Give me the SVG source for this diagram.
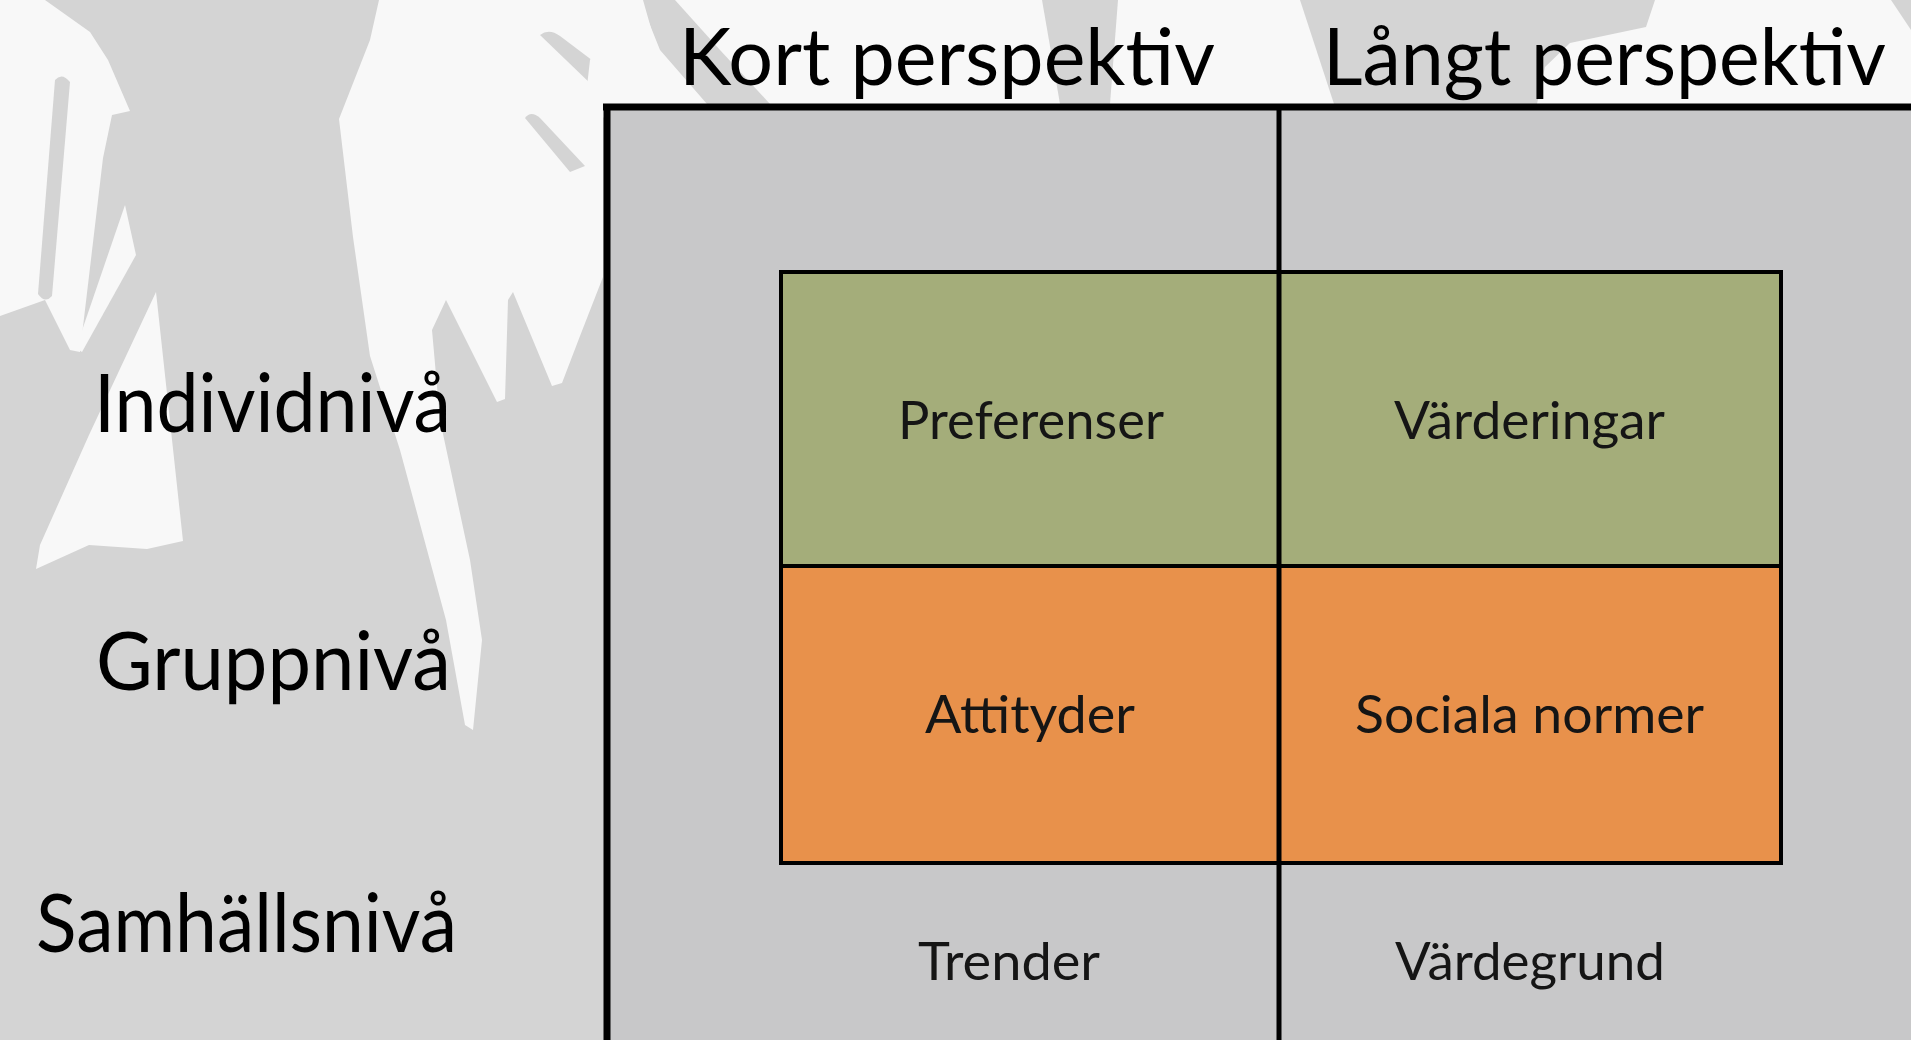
<svg xmlns="http://www.w3.org/2000/svg" width="1911" height="1040" viewBox="0 0 1911 1040">
<style>
.hand{fill:#f8f8f8;stroke:none}
.gband{fill:#d4d4d4;stroke:none}
.hdr{font-family:"Lato","Liberation Sans",sans-serif;font-size:80px;fill:#000}
.row{font-family:"Lato","Liberation Sans",sans-serif;font-size:82px;fill:#000}
.cell{font-family:"Lato","Liberation Sans",sans-serif;font-size:52px;fill:#151515;text-anchor:start}
.ln{stroke:#000;fill:none}
</style>
<rect id="background" x="0" y="0" width="1911" height="1040" fill="#d4d4d4"/>
<g id="hands">
<path class="hand" d="M0,0 L45,0 L90,32 L108,60 L130,111 L112,115 L103,158 L80,352 L70,350 L45,300 L0,316 Z"/>
<path class="gband" d="M55,80 Q62,72 70,82 L52,296 Q45,304 38,294 Z"/>
<path class="hand" d="M125,205 L136,255 L82,352 L76,348 Z"/>
<path class="hand" d="M36,569 L40,545 L89,435 L156,292 L183,541 L147,549 L89,545 Z"/>
<path class="hand" d="M379,0 L643,0 L660,60 L603,118 L603,277 L580,336 L562,383 L552,386 L513,292 L508,300 L505,399 L497,402 L446,300 L432,330 L440,420 L470,560 L482,640 L473,730 L465,725 L446,620 L400,450 L370,356 L353,237 L339,119 L370,40 Z"/>
<path class="gband" d="M540,35 Q549,28 560,36 L650,104 L620,112 Z"/>
<path class="gband" d="M525,118 Q531,110 540,118 L585,166 L570,172 Z"/>
<path class="hand" d="M622,0 L640,0 L660,50 L707,104 L585,104 L590,60 Z"/>
<path class="hand" d="M675,0 L1042,0 L1060,104 L770,104 L720,50 Z"/>
<path class="hand" d="M1118,0 L1300,0 L1334,104 L1110,104 Z"/>
<path class="hand" d="M1655,0 L1891,0 L1911,30 L1911,104 L1537,104 L1545,67 L1570,43 L1646,27 Z"/>
</g>
<rect id="table-bg" x="607" y="107" width="1304" height="933" fill="#c8c8c9"/>
<g id="cell-preferenser">
<rect x="781" y="272" width="498" height="294" fill="#a4ad7a"/>
<text class="cell" x="898" y="439" textLength="266" lengthAdjust="spacingAndGlyphs">Preferenser</text>
</g>
<g id="cell-varderingar">
<rect x="1279" y="272" width="502" height="294" fill="#a4ad7a"/>
<text class="cell" x="1394" y="439" textLength="271" lengthAdjust="spacingAndGlyphs">Värderingar</text>
</g>
<g id="cell-attityder">
<rect x="781" y="566" width="498" height="297" fill="#e8914b"/>
<text class="cell" x="925" y="733" textLength="210" lengthAdjust="spacingAndGlyphs">Attityder</text>
</g>
<g id="cell-sociala">
<rect x="1279" y="566" width="502" height="297" fill="#e8914b"/>
<text class="cell" x="1355" y="733" textLength="349" lengthAdjust="spacingAndGlyphs">Sociala normer</text>
</g>
<g id="cell-trender">
<text class="cell" x="918" y="980" textLength="182" lengthAdjust="spacingAndGlyphs">Trender</text>
</g>
<g id="cell-vardegrund">
<text class="cell" x="1395" y="980" textLength="270" lengthAdjust="spacingAndGlyphs">Värdegrund</text>
</g>
<g id="lines">
<rect class="ln" x="781" y="272" width="1000" height="591" stroke-width="4"/>
<line class="ln" x1="781" y1="566" x2="1781" y2="566" stroke-width="4"/>
<line class="ln" x1="603" y1="107" x2="1911" y2="107" stroke-width="7"/>
<line class="ln" x1="607" y1="104" x2="607" y2="1040" stroke-width="7"/>
<line class="ln" x1="1279" y1="107" x2="1279" y2="1040" stroke-width="5"/>
</g>
<g id="header-kort"><text class="hdr" x="679" y="85" textLength="536" lengthAdjust="spacingAndGlyphs">Kort perspektiv</text></g>
<g id="header-langt"><text class="hdr" x="1323" y="85" textLength="563" lengthAdjust="spacingAndGlyphs">Långt perspektiv</text></g>
<g id="row-individ"><text class="row" x="94" y="432" textLength="357" lengthAdjust="spacingAndGlyphs">Individnivå</text></g>
<g id="row-grupp"><text class="row" x="96" y="690" textLength="355" lengthAdjust="spacingAndGlyphs">Gruppnivå</text></g>
<g id="row-samhalle"><text class="row" x="36" y="952" textLength="421" lengthAdjust="spacingAndGlyphs">Samhällsnivå</text></g>
</svg>
